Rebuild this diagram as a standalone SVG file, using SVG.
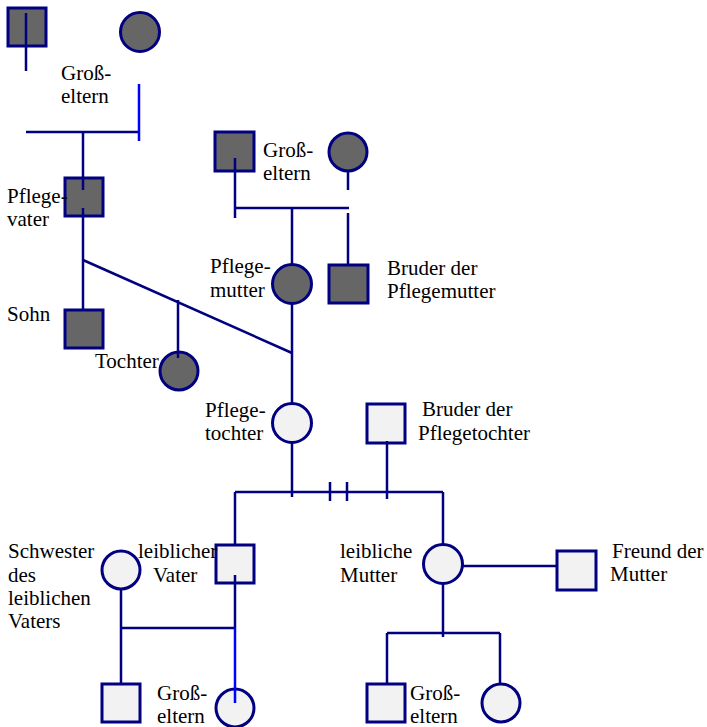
<svg xmlns="http://www.w3.org/2000/svg" width="707" height="727" viewBox="0 0 707 727">
<style>
.dk{fill:#666666;stroke:#000080;stroke-width:3}
.lt{fill:#f2f2f2;stroke:#000080;stroke-width:3}
.ln{stroke:#000080;stroke-width:2.5;fill:none}
.bl{stroke:#0000ff;stroke-width:2.5;fill:none}
text{font-family:"Liberation Serif","Times New Roman",serif;font-size:21px;fill:#000}
</style>
<rect width="707" height="727" fill="#fff"/>
<g id="gv1"><rect class="dk" x="8" y="8" width="38" height="38"/></g>
<g id="gm1"><circle class="dk" cx="140" cy="32" r="19.5"/></g>
<g id="pflegevater"><rect class="dk" x="65" y="178" width="38" height="38"/></g>
<g id="sohn"><rect class="dk" x="65" y="310" width="38" height="38"/></g>
<g id="tochter"><circle class="dk" cx="179" cy="371" r="19"/></g>
<g id="gv2"><rect class="dk" x="215" y="132" width="39" height="39"/></g>
<g id="gm2"><circle class="dk" cx="348" cy="152" r="19"/></g>
<g id="pflegemutter"><circle class="dk" cx="292" cy="284" r="19.5"/></g>
<g id="bruder-pm"><rect class="dk" x="329" y="265" width="39" height="38"/></g>
<g id="pflegetochter"><circle class="lt" cx="292" cy="423" r="19.5"/></g>
<g id="bruder-pt"><rect class="lt" x="367" y="404" width="38" height="39"/></g>
<g id="schwester"><circle class="lt" cx="121" cy="570" r="19"/></g>
<g id="vater"><rect class="lt" x="216" y="545" width="38" height="38"/></g>
<g id="mutter"><circle class="lt" cx="443" cy="564" r="19.5"/></g>
<g id="freund"><rect class="lt" x="557" y="551" width="39" height="39"/></g>
<g id="gv3"><rect class="lt" x="102" y="684" width="38" height="38"/></g>
<g id="gm3"><circle class="lt" cx="235" cy="708" r="19"/></g>
<g id="gv4"><rect class="lt" x="367" y="684" width="38" height="38"/></g>
<g id="gm4"><circle class="lt" cx="501" cy="703" r="19"/></g>
<g id="connectors">
<path class="ln" d="M26 13V71M26 132H140M83 132V190M83 208V310"/>
<path class="bl" d="M139 84V141"/>
<path class="ln" d="M83 260L292 353M178 300V358"/>
<path class="ln" d="M235 158V218M235 208H349M348 171V190M348 213V265M292 208V265"/>
<path class="ln" d="M292 303V404M292 443V497M235 492H443M330 482V501M347 482V501M387 441V499M235 492V545M443 492V545"/>
<path class="ln" d="M235 575V628M121 589V684M121 628H235"/>
<path class="bl" d="M235 628V703"/>
<path class="ln" d="M462 566H557M443 583V637M387 633H500M387 633V684M500 633V684"/>
</g>
<g id="labels">
<text x="61" y="80">Groß-</text><text x="61" y="103">eltern</text>
<text x="263" y="157">Groß-</text><text x="263" y="180">eltern</text>
<text x="7" y="203">Pflege-</text><text x="7" y="226">vater</text>
<text x="7" y="321">Sohn</text>
<text x="95" y="368">Tochter</text>
<text x="210" y="273">Pflege-</text><text x="210" y="297">mutter</text>
<text x="387" y="275">Bruder der</text><text x="387" y="298">Pflegemutter</text>
<text x="205" y="417">Pflege-</text><text x="205" y="440">tochter</text>
<text x="422" y="416">Bruder der</text><text x="418" y="440">Pflegetochter</text>
<text x="8" y="558">Schwester</text><text x="8" y="582">des</text><text x="8" y="605">leiblichen</text><text x="8" y="628">Vaters</text>
<text x="138" y="558">leiblicher</text><text x="153" y="582">Vater</text>
<text x="340" y="558">leibliche</text><text x="340" y="582">Mutter</text>
<text x="612" y="558">Freund der</text><text x="610" y="581">Mutter</text>
<text x="157" y="700">Groß-</text><text x="157" y="723">eltern</text>
<text x="410" y="700">Groß-</text><text x="410" y="723">eltern</text>
</g>
</svg>
